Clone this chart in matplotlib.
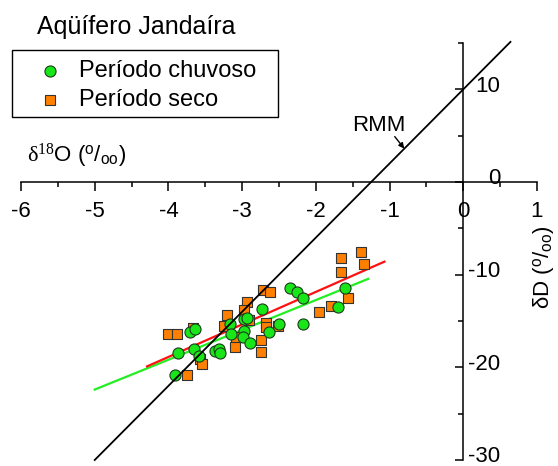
import matplotlib
matplotlib.use("Agg")
import matplotlib.pyplot as plt
import matplotlib.transforms as mtransforms
import numpy as np
from matplotlib.lines import Line2D
from matplotlib.patches import Rectangle

plt.rcParams['font.family'] = ['Liberation Sans', 'DejaVu Sans']
plt.rcParams['mathtext.fontset'] = 'custom'
plt.rcParams['mathtext.rm'] = 'Liberation Serif'
plt.rcParams['mathtext.sf'] = 'Liberation Sans'
plt.rcParams['mathtext.it'] = 'Liberation Serif:italic'

# ---- data ----
chuvoso_d18o = [-3.91, -3.87, -3.71, -3.64, -3.65, -3.59, -3.37, -3.31, -3.30, -3.17,
                -3.15, -2.98, -2.99, -2.90, -2.98, -2.93, -2.73, -2.64, -2.50, -2.35,
                -2.26, -2.18, -2.17, -1.70, -1.60]
chuvoso_dD = [-20.8, -18.4, -16.2, -15.9, -18.0, -18.75, -18.2, -18.0, -18.5, -15.3,
              -16.4, -16.1, -16.7, -17.4, -14.8, -14.7, -13.7, -16.2, -15.3, -11.4,
              -11.9, -12.5, -15.3, -13.5, -11.4]

seco_d18o = [-4.01, -3.88, -3.67, -3.57, -3.55, -3.75, -3.20, -3.25, -2.94, -2.98,
             -2.91, -3.09, -3.10, -2.75, -2.74, -2.72, -2.62, -2.67, -2.68, -2.52,
             -1.96, -1.80, -1.56, -1.66, -1.66, -1.39, -1.35]
seco_dD = [-16.4, -16.4, -15.8, -19.1, -19.6, -20.8, -14.4, -15.5, -13.0, -13.8,
           -14.9, -16.7, -17.8, -17.0, -18.3, -11.7, -11.9, -15.2, -15.7, -15.5,
           -14.0, -13.4, -12.5, -8.2, -9.7, -7.6, -8.8]

# regression lines: (slope, intercept) and x range
fit_chuvoso = [3.22, -6.3]
fit_chuvoso_x = [-5.0, -1.29]
fit_seco = [3.51, -4.84]
fit_seco_x = [-4.29, -1.07]
# meteoric water line RMM: dD = 8*d18O + 10
rmm = [8.0, 10.0]
rmm_x = [-5.0, 0.64]

xticks = [-6, -5, -4, -3, -2, -1, 0, 1]
yticks = [-30, -20, -10, 0, 10]
legend_labels = ['Período chuvoso', 'Período seco']

W, H = 558, 466
fig = plt.figure(figsize=(W / 100, H / 100), dpi=100)
ax = fig.add_axes([21 / W, (H - 460) / H, 516 / W, 417 / H])
ax.set_xlim(-6, 1)
ax.set_ylim(-30, 15)

green = '#19e619'
orange = '#ff8000'

# regression lines
xs = np.array(fit_chuvoso_x)
ax.plot(xs, fit_chuvoso[0] * xs + fit_chuvoso[1], color='#22ee22', lw=1.6, zorder=2)
xs = np.array(fit_seco_x)
ax.plot(xs, fit_seco[0] * xs + fit_seco[1], color='#ff1010', lw=1.6, zorder=2)

ax.scatter(seco_d18o, seco_dD, marker='s', s=52, facecolor=orange,
           edgecolor='#333333', linewidth=0.8, zorder=3)
ax.scatter(chuvoso_d18o, chuvoso_dD, marker='o', s=64, facecolor=green,
           edgecolor='#1a3a1a', linewidth=0.8, zorder=4)

xs = np.array(rmm_x)
ax.plot(xs, rmm[0] * xs + rmm[1], color='black', lw=1.3, zorder=5, clip_on=False)

# RMM annotation
ax.text(-1.15, 6.1, 'RMM', fontsize=16, ha='center', va='center')
ax.annotate('', xy=(-0.80, 3.6), xytext=(-0.93, 4.9),
            arrowprops=dict(arrowstyle='-|>', color='black', lw=1.0,
                            mutation_scale=8, shrinkA=0, shrinkB=0))

# spines
for s in ['top', 'left']:
    ax.spines[s].set_visible(False)
ax.spines['bottom'].set_position(('data', 0))
ax.spines['right'].set_position(('data', 0))
ax.spines['bottom'].set_bounds(-6, 1)
ax.spines['right'].set_bounds(-30, 15)
for s in ['bottom', 'right']:
    ax.spines[s].set_linewidth(1.1)

ax.xaxis.set_ticks_position('bottom')
ax.yaxis.set_ticks_position('right')
ax.set_xticks(xticks)
ax.set_xticklabels([str(v) for v in xticks])
ax.set_xticks(np.arange(-5.5, 1, 1.0), minor=True)
ax.set_yticks(yticks)
ax.set_yticks([-25, -15, -5, 5, 15], minor=True)
ax.tick_params(axis='x', which='major', direction='out', length=6.5, width=1.1,
               labelsize=16, pad=7)
ax.tick_params(axis='x', which='minor', direction='out', length=3.5, width=1.1)
ax.tick_params(axis='y', which='major', direction='in', length=6, width=1.1,
               labelright=False, labelleft=False)
ax.tick_params(axis='y', which='minor', direction='in', length=3.5, width=1.1)

# y tick labels, right-aligned to the right of the vertical axis
ylab_tr = ax.transData + mtransforms.ScaledTranslation(37 / 100, 3 / 100, fig.dpi_scale_trans)
for v in yticks:
    ax.text(0, v, str(v), fontsize=16, ha='right', va='center', transform=ylab_tr,
            clip_on=False)

# axis titles
fig.text(27 / W, 1 - 162 / H, r'$\mathrm{\delta}^{18}$O ($^{\mathsf{o}}$/$_{\mathsf{oo}}$)',
         fontsize=16, ha='left', va='baseline')
fig.text(544 / W, 1 - 267 / H, r'$\mathsf{\delta}$D ($^{\mathsf{o}}$/$_{\mathsf{oo}}$)',
         fontsize=16, ha='center', va='center', rotation=90)
fig.text(37 / W, 1 - 34 / H, 'Aqüífero Jandaíra', fontsize=18, ha='left', va='baseline')

# legend box (drawn manually for exact placement)
fig.patches.append(Rectangle((12 / W, 1 - 117 / H), 266 / W, 67 / H,
                             transform=fig.transFigure, facecolor='white',
                             edgecolor='black', linewidth=1.0, zorder=6))
legend_y = [71, 100]
fig.lines.append(Line2D([50 / W], [1 - legend_y[0] / H], transform=fig.transFigure,
                        ls='none', marker='o', ms=8, mfc=green, mec='#1a3a1a', mew=0.8,
                        zorder=7))
fig.lines.append(Line2D([50 / W], [1 - legend_y[1] / H], transform=fig.transFigure,
                        ls='none', marker='s', ms=7, mfc=orange, mec='#333333', mew=0.8,
                        zorder=7))
for lab, yy in zip(legend_labels, legend_y):
    fig.text(79 / W, 1 - yy / H, lab, fontsize=17, ha='left', va='center', zorder=8)

fig.savefig('out.png', dpi=100)
